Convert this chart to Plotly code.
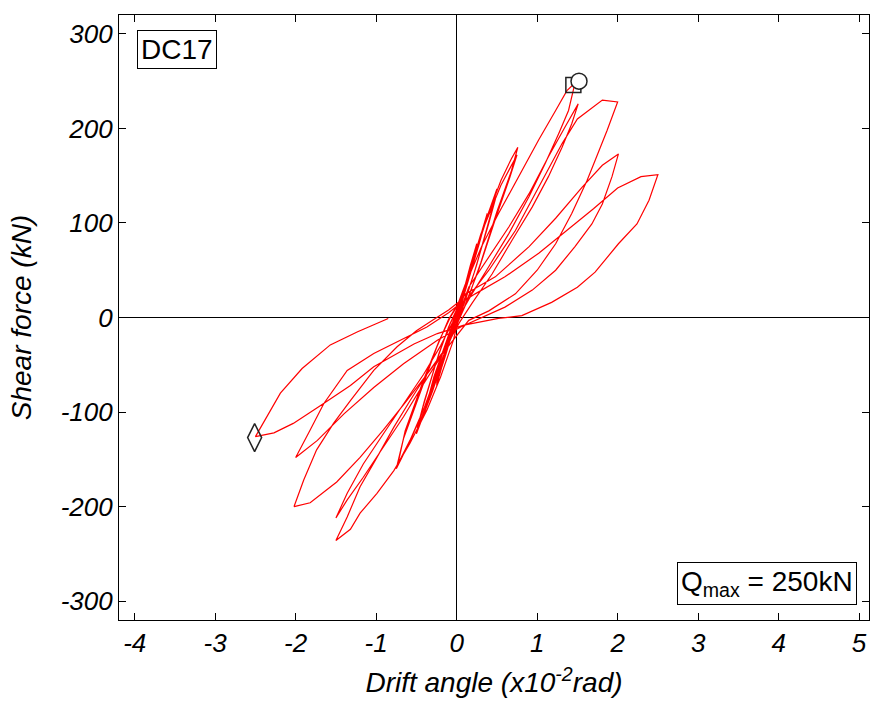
import plotly.graph_objects as go

# Drift angle (x10^-2 rad) and shear force (kN), recorded in loading order.
# Small-amplitude cycles: 0.25, 0.4, 0.5 and 0.75 (two cycles each)
small_drift = [
    0.0, 0.08, 0.17, 0.25, 0.19, 0.10, 0.02, -0.06, -0.16, -0.25, -0.19, -0.10, -0.02,
    0.06, 0.16, 0.25, 0.18, 0.08, -0.02, -0.13, -0.25, -0.18, -0.08, 0.0,
    0.10, 0.25, 0.38, 0.30, 0.15, 0.03, -0.08, -0.25, -0.40, -0.30, -0.15, -0.03,
    0.10, 0.25, 0.37, 0.28, 0.12, 0.0, -0.10, -0.27, -0.39, -0.28, -0.12, -0.02,
    0.10, 0.30, 0.42, 0.50, 0.42, 0.25, 0.10, 0.0, -0.12, -0.30, -0.42, -0.50, -0.42, -0.25, -0.10, 0.0,
    0.12, 0.30, 0.49, 0.40, 0.22, 0.08, -0.05, -0.20, -0.35, -0.49, -0.40, -0.22, -0.08, 0.02,
    0.15, 0.35, 0.55, 0.68, 0.76, 0.68, 0.50, 0.30, 0.12, 0.0, -0.15, -0.35, -0.55, -0.68, -0.75,
    -0.66, -0.45, -0.25, -0.10, 0.02,
    0.15, 0.35, 0.55, 0.75, 0.66, 0.48, 0.28, 0.10, -0.03, -0.20, -0.40, -0.58, -0.73,
    -0.64, -0.42, -0.22, -0.08,
]
small_shear = [
    0, 26, 55, 78, 58, 28, 5, -16, -45, -72, -52, -24, -3,
    18, 50, 76, 54, 20, -6, -38, -70, -48, -18, 2,
    30, 74, 110, 84, 40, 6, -22, -65, -100, -70, -32, -3,
    30, 74, 106, 78, 32, 2, -26, -70, -97, -62, -24, 0,
    30, 88, 118, 136, 108, 56, 16, -5, -32, -78, -106, -123, -95, -46, -10, 8,
    38, 88, 128, 100, 48, 12, -12, -50, -88, -117, -88, -38, -6, 12,
    45, 100, 145, 168, 180, 155, 112, 58, 15, -8, -38, -85, -125, -148, -160,
    -128, -78, -32, -2, 15,
    45, 98, 140, 172, 148, 104, 52, 12, -12, -48, -95, -130, -155,
    -120, -68, -25, 0,
]

# Cycles at 1.5 (two cycles)
c15_drift = [
    0.03, 0.15, 0.31, 0.52, 0.77, 1.02, 1.23, 1.37, 1.47,
    1.39, 1.27, 1.10, 0.90, 0.65, 0.40, 0.19, 0.03,
    -0.04, -0.20, -0.37, -0.58, -0.78, -0.99, -1.20, -1.32, -1.50,
    -1.36, -1.20, -0.99, -0.78, -0.58, -0.37, -0.16, -0.05, 0.03,
    0.15, 0.40, 0.65, 0.90, 1.14, 1.35, 1.51,
    1.43, 1.31, 1.14, 0.94, 0.69, 0.44, 0.19, 0.03,
    -0.20, -0.41, -0.66, -0.91, -1.16, -1.36, -1.50,
    -1.36, -1.16, -0.91, -0.66, -0.41, -0.20, -0.05, 0.0,
]
c15_shear = [
    15, 43, 75, 110, 149, 188, 219, 240, 248,
    219, 195, 163, 128, 89, 54, 25, 1,
    -24, -63, -98, -133, -162, -186, -207, -224, -236,
    -211, -179, -148, -116, -88, -60, -35, -12, 4,
    32, 64, 96, 131, 170, 202, 226,
    205, 180, 149, 117, 82, 46, 15, -6,
    -42, -70, -105, -137, -169, -193, -212,
    -186, -155, -123, -91, -60, -30, -5, 8,
]

# Cycles at 2.0 (two cycles)
c20_drift = [
    0.15, 0.40, 0.73, 1.02, 1.31, 1.50, 1.81, 2.00,
    1.87, 1.72, 1.62, 1.43, 1.23, 1.00, 0.73, 0.40, 0.15,
    -0.08, -0.33, -0.62, -0.91, -1.20, -1.49, -1.82, -2.02,
    -1.90, -1.74, -1.53, -1.32, -1.03, -0.74, -0.50, -0.30, -0.10, 0.05,
    0.11, 0.48, 0.90, 1.23, 1.56, 1.81, 2.01,
    1.93, 1.81, 1.68, 1.47, 1.23, 0.94, 0.60, 0.23,
    0.05, -0.24, -0.66, -1.03, -1.40, -1.73, -2.00,
    -1.82, -1.65, -1.36, -1.03, -0.70, -0.37, -0.10, 0.05,
]
c20_shear = [
    22, 50, 92, 138, 184, 210, 230, 228,
    198, 166, 145, 110, 78, 50, 25, 7, -3,
    -28, -56, -88, -119, -148, -174, -196, -200,
    -172, -140, -112, -88, -56, -31, -14, -3, 8, 18,
    25, 43, 75, 105, 138, 161, 173,
    149, 120, 99, 75, 50, 29, 11, -3,
    -10, -24, -49, -74, -102, -130, -148,
    -119, -91, -56, -38, -24, -10, 5, 15,
]

# Final cycle at 2.5
c25_drift = [
    0.23, 0.60, 1.02, 1.43, 1.70, 2.00, 2.29, 2.50,
    2.39, 2.24, 2.01, 1.72, 1.50, 1.18, 0.81, 0.52,
    0.09, -0.24, -0.53, -1.03, -1.32, -1.69, -2.03, -2.27, -2.50,
    -2.19, -1.92, -1.57, -1.23, -0.85,
]
c25_shear = [
    25, 43, 68, 96, 115, 137, 149, 151,
    124, 99, 78, 48, 32, 16, 2, -1,
    -8, -17, -28, -52, -72, -93, -112, -122, -126,
    -80, -54, -29, -15, -1,
]

# Marked points: peak of first large cycle, maximum strength, ultimate point
peak_pt = (1.45, 246)
qmax_pt = (1.52, 250)
ult_pt = (-2.51, -127)

x_ticks = [-4, -3, -2, -1, 0, 1, 2, 3, 4, 5]
y_ticks = [-300, -200, -100, 0, 100, 200, 300]

drift = small_drift + c15_drift + c20_drift + c25_drift
shear = small_shear + c15_shear + c20_shear + c25_shear

FONT = "Liberation Sans, Arial, sans-serif"

fig = go.Figure()
fig.add_trace(go.Scatter(
    x=drift, y=shear, mode="lines",
    line=dict(color="#ff0000", width=1.2),
    showlegend=False, hoverinfo="skip",
))
fig.add_trace(go.Scatter(
    x=[peak_pt[0]], y=[peak_pt[1]], mode="markers",
    marker=dict(symbol="square-open", size=15, color="#222222", line=dict(width=1.5)),
    showlegend=False,
))
fig.add_trace(go.Scatter(
    x=[qmax_pt[0]], y=[qmax_pt[1]], mode="markers",
    marker=dict(symbol="circle", size=16, color="white",
                line=dict(width=1.5, color="#222222")),
    showlegend=False,
))
fig.add_trace(go.Scatter(
    x=[ult_pt[0]], y=[ult_pt[1]], mode="markers",
    marker=dict(symbol="diamond-tall-open", size=20, color="#222222", line=dict(width=1.5)),
    showlegend=False,
))

axis_common = dict(
    showline=True, linecolor="black", linewidth=1.2, mirror="ticks",
    ticks="inside", ticklen=7, tickwidth=1, tickcolor="black",
    showgrid=False, zeroline=True, zerolinecolor="black", zerolinewidth=1.2,
    tickmode="array",
    tickfont=dict(family=FONT, size=26, color="black", style="italic"),
)

fig.update_xaxes(
    **axis_common,
    range=[-4.195, 5.123],
    tickvals=x_ticks, ticktext=[str(v) for v in x_ticks],
    title=dict(text="Drift angle (x10<sup>-2</sup>rad)", standoff=15,
               font=dict(family=FONT, size=28, color="black", style="italic")),
)
fig.update_yaxes(
    **axis_common,
    range=[-320, 320],
    tickvals=y_ticks, ticktext=[str(v) for v in y_ticks],
    title=dict(text="Shear force (kN)", standoff=20,
               font=dict(family=FONT, size=28, color="black", style="italic")),
)

fig.add_annotation(
    text="DC17", xref="paper", yref="paper", x=0.024, y=0.9747,
    xanchor="left", yanchor="top", showarrow=False,
    font=dict(family=FONT, size=28, color="black"),
    bordercolor="black", borderwidth=1, borderpad=3, bgcolor="white",
)
fig.add_annotation(
    text="Q<sub>max</sub> = 250kN", xref="paper", yref="paper", x=0.9836, y=0.0255,
    xanchor="right", yanchor="bottom", showarrow=False,
    font=dict(family=FONT, size=28, color="black"),
    bordercolor="black", borderwidth=1, borderpad=3, bgcolor="white",
)

fig.update_layout(
    width=870, height=708,
    margin=dict(l=119, r=1, t=15, b=88),
    paper_bgcolor="white", plot_bgcolor="white",
    font=dict(family=FONT, color="black"),
)

fig.write_html("out.html")
